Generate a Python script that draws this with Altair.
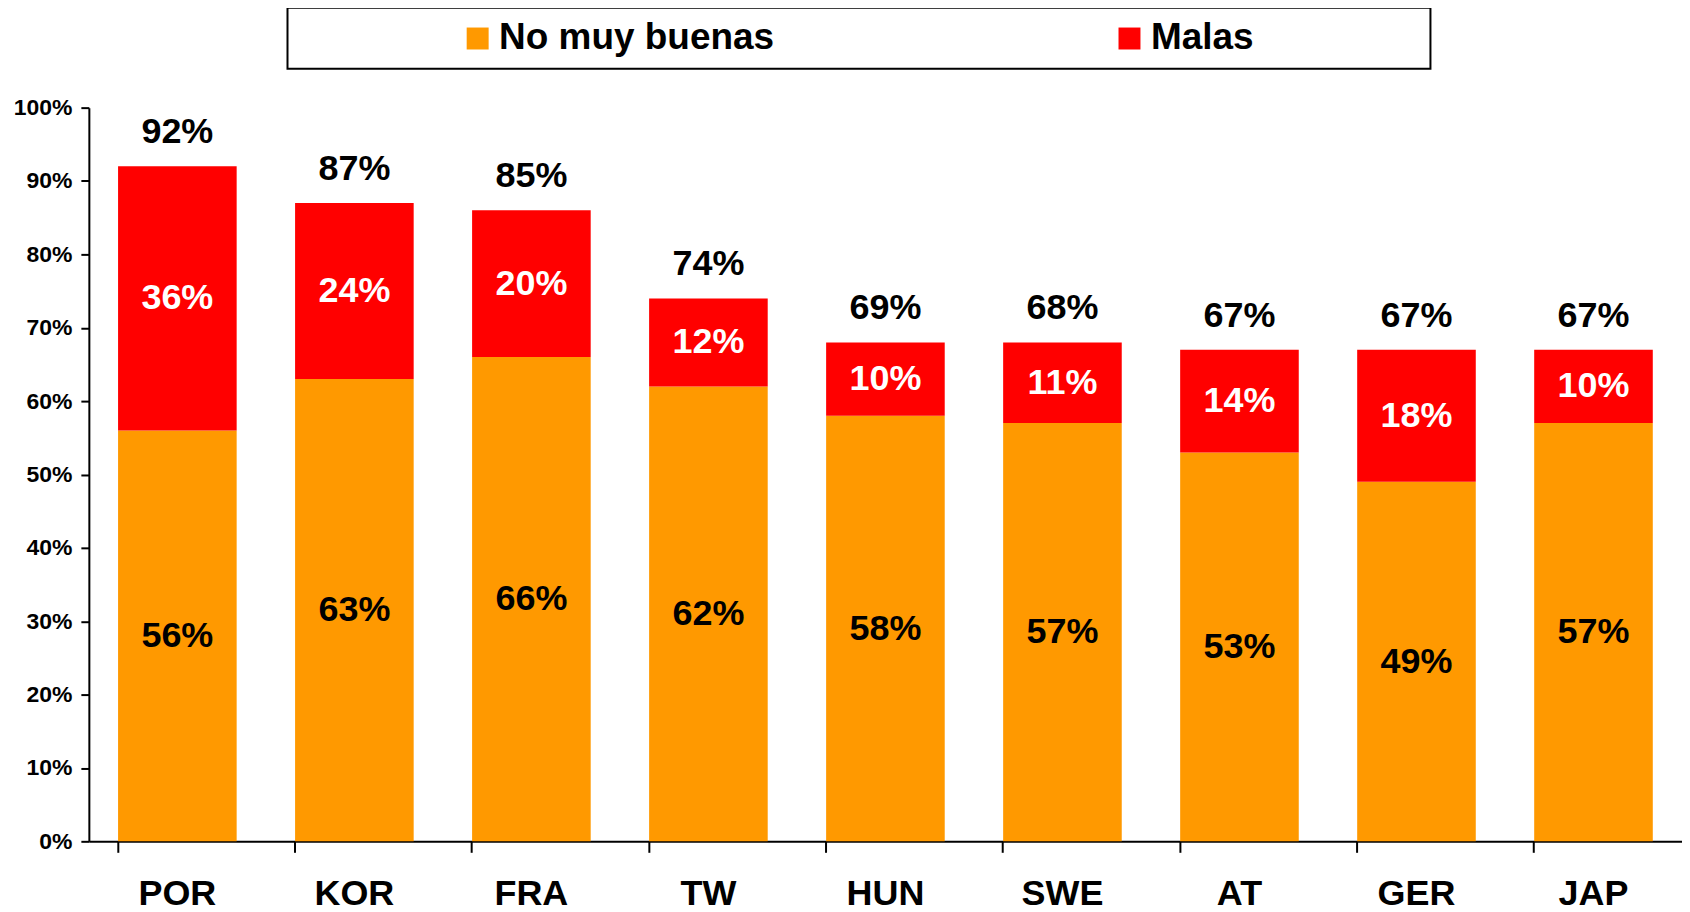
import altair as alt
import pandas as pd

countries = ["POR", "KOR", "FRA", "TW", "HUN", "SWE", "AT", "GER", "JAP"]
no_muy_buenas = [56, 63, 66, 62, 58, 57, 53, 49, 57]
malas = [36, 24, 20, 12, 10, 11, 14, 18, 10]
totals = [92, 87, 85, 74, 69, 68, 67, 67, 67]
series = ["No muy buenas", "Malas"]
colors = ["#FF9900", "#FF0000"]
y_ticks = [0, 10, 20, 30, 40, 50, 60, 70, 80, 90, 100]

rows = []
for i, c in enumerate(countries):
    rows.append(dict(country=c, serie=series[0], ord=0, value=no_muy_buenas[i], total=totals[i]))
    rows.append(dict(country=c, serie=series[1], ord=1, value=malas[i], total=totals[i]))
df = pd.DataFrame(rows)

FONT = "Liberation Sans"

base = alt.Chart(df).transform_stack(
    stack="value", groupby=["country"], as_=["y0", "y1"],
    sort=[alt.SortField("ord", order="ascending")]
).transform_calculate(
    mid="(datum.y0 + datum.y1) / 2",
    label="datum.value + '%'",
    total_label="datum.total + '%'"
)

x_enc = alt.X(
    "country:N", sort=countries,
    scale=alt.Scale(paddingInner=0.33, paddingOuter=0.165),
    axis=alt.Axis(title=None, bandPosition=0, labelAngle=0, labelFontSize=36,
                  labelFont=FONT, labelFontWeight="bold", labelColor="black",
                  labelPadding=24, tickSize=11, tickWidth=2, tickColor="black",
                  domainColor="black", domainWidth=2)
)
y_scale = alt.Scale(domain=[0, 100], nice=False)

legend_expr = ("datum.label == 'Malas' ? 'Malas' + '                ' + '\u200b' "
               ": datum.label")

bars = base.mark_bar().encode(
    x=x_enc,
    y=alt.Y("y0:Q", scale=y_scale,
            axis=alt.Axis(values=y_ticks, labelExpr="datum.value + '%'", title=None,
                          grid=False, labelFontSize=23, labelFont=FONT,
                          labelFontWeight="bold", labelColor="black", labelPadding=9,
                          tickSize=8, tickWidth=2, tickColor="black",
                          domainColor="black", domainWidth=2)),
    y2="y1:Q",
    color=alt.Color(
        "serie:N", scale=alt.Scale(domain=series, range=colors),
        legend=alt.Legend(title=None, orient="none", legendX=199, legendY=-100,
                          direction="horizontal", symbolType="square", symbolSize=484,
                          symbolStrokeWidth=0, labelFontSize=37, labelFont=FONT,
                          labelFontWeight="bold", labelColor="black", labelLimit=900,
                          symbolOffset=160, labelOffset=3, columnPadding=177,
                          padding=12, strokeColor="black", fillColor="white",
                          labelExpr=legend_expr)
    ),
    order=alt.Order("ord:Q", sort="ascending"),
)

seg_text = base.mark_text(font=FONT, fontWeight="bold", fontSize=36, baseline="middle").encode(
    x=alt.X("country:N", sort=countries),
    y=alt.Y("mid:Q", scale=y_scale),
    text=alt.Text("label:N"),
    color=alt.condition(alt.datum.ord == 1, alt.value("white"), alt.value("black")),
)

tot_text = base.transform_filter(alt.datum.ord == 1).mark_text(
    font=FONT, fontWeight="bold", fontSize=36, baseline="middle", dy=-34, color="black"
).encode(
    x=alt.X("country:N", sort=countries),
    y=alt.Y("y1:Q", scale=y_scale),
    text=alt.Text("total_label:N"),
)

chart = alt.layer(bars, seg_text, tot_text).properties(
    width=1596, height=735,
    autosize=alt.AutoSizeParams(type="none"),
    padding={"left": 81, "top": 99, "right": 0, "bottom": 76},
).configure_view(stroke=None).configure_legend(strokeWidth=2)

chart.save("out.html", embed_options={"renderer": "svg", "actions": False})
